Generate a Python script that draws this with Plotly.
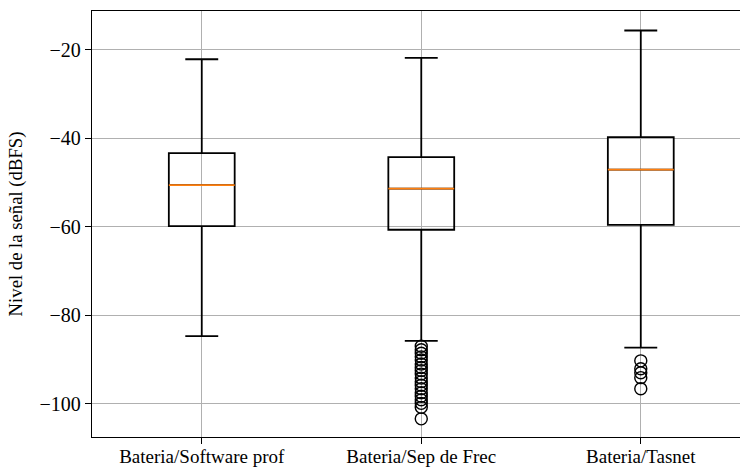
import plotly.graph_objects as go

categories = ["Bateria/Software prof", "Bateria/Sep de Frec", "Bateria/Tasnet"]
positions = [1, 2, 3]
q1 = [-59.9, -60.7, -59.6]
median = [-50.6, -51.4, -47.1]
q3 = [-43.4, -44.3, -39.8]
lower_whisker = [-84.7, -85.8, -87.3]
upper_whisker = [-22.2, -21.9, -15.7]
outliers_sep = [-87.0, -87.8, -88.6, -89.4, -90.1, -91.0, -91.8, -92.5, -93.3,
                -94.2, -95.0, -95.8, -96.6, -97.5, -98.3, -99.1, -99.9, -100.8, -103.4]
outliers_tasnet = [-90.3, -92.1, -93.0, -94.1, -96.6]
y_ticks = [-100, -80, -60, -40, -20]

FONT = "Liberation Serif"

fig = go.Figure()
fig.add_trace(go.Box(
    x=positions, q1=q1, median=median, q3=q3,
    lowerfence=lower_whisker, upperfence=upper_whisker,
    width=0.3, whiskerwidth=0.5, boxpoints=False,
    line=dict(color="black", width=1.8), fillcolor="rgba(0,0,0,0)",
    showlegend=False, hoverinfo="skip",
))
fig.add_trace(go.Box(
    x=positions, q1=median, median=median, q3=median,
    lowerfence=median, upperfence=median,
    width=0.3, whiskerwidth=0.5, boxpoints=False,
    line=dict(color="#ff7f0e", width=1.7), fillcolor="rgba(0,0,0,0)",
    showlegend=False, hoverinfo="skip",
))
fig.add_trace(go.Scatter(
    x=[positions[1]] * len(outliers_sep), y=outliers_sep, mode="markers",
    marker=dict(symbol="circle-open", size=12, color="black", line=dict(width=1.4)),
    showlegend=False, hoverinfo="skip",
))
fig.add_trace(go.Scatter(
    x=[positions[2]] * len(outliers_tasnet), y=outliers_tasnet, mode="markers",
    marker=dict(symbol="circle-open", size=12, color="black", line=dict(width=1.4)),
    showlegend=False, hoverinfo="skip",
))

fig.update_layout(
    width=740, height=468,
    margin=dict(l=92, r=0, t=11, b=31),
    plot_bgcolor="white", paper_bgcolor="white",
    font=dict(family=FONT, size=20, color="black"),
    boxmode="overlay",
)
fig.update_xaxes(
    range=[0.5, 3.452], tickmode="array", tickvals=positions, ticktext=categories,
    showgrid=True, gridcolor="#b0b0b0", gridwidth=1,
    showline=True, linecolor="black", linewidth=1.3, mirror=True,
    ticks="outside", ticklen=6, tickcolor="black", tickwidth=1.2,
    zeroline=False, automargin=False, tickfont=dict(size=19),
    ticklabelstandoff=-4,
)
fig.update_yaxes(
    range=[-107.5, -11.3], tickmode="array", tickvals=y_ticks,
    ticktext=["\u2212100", "\u221280", "\u221260", "\u221240", "\u221220"],
    showgrid=True, gridcolor="#b0b0b0", gridwidth=1,
    showline=True, linecolor="black", linewidth=1.3, mirror=False,
    ticks="outside", ticklen=6, tickcolor="black", tickwidth=1.2,
    zeroline=False, automargin=False,
    title=dict(text="Nivel de la señal (dBFS)", standoff=12, font=dict(size=18.7)),
)

fig.write_html(
    "out.html",
    config={"displayModeBar": False},
    post_script="document.body.style.margin='0';document.body.style.padding='0';",
)
